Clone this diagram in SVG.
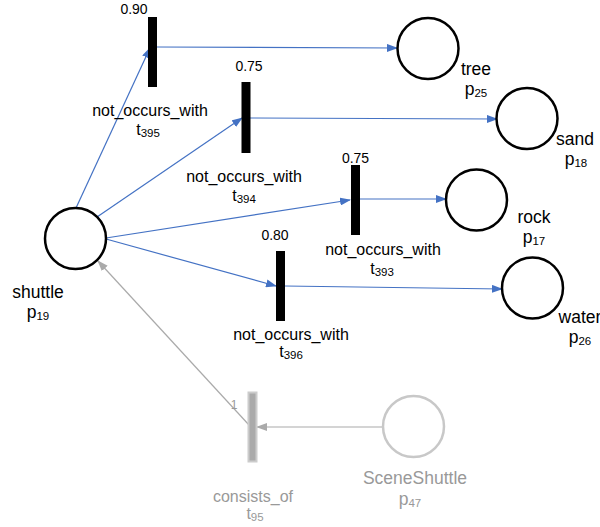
<svg xmlns="http://www.w3.org/2000/svg" width="600" height="527" viewBox="0 0 600 527">
<style>
.pl{fill:#fff;stroke:#000;stroke-width:2.5}
.tr{fill:#000}
.lbl{font-family:"Liberation Sans",Arial,sans-serif;font-size:17.5px;fill:#000;text-anchor:middle}
.tl{font-family:"Liberation Sans",Arial,sans-serif;font-size:16px;fill:#000;text-anchor:middle}
.w{font-family:"Liberation Sans",Arial,sans-serif;font-size:14px;fill:#000;text-anchor:middle}
.sub{font-size:11.5px}
.arc{stroke:#4472C4;stroke-width:1.2;fill:none}
.garc{stroke:#aaa;stroke-width:1.2;fill:none}
.g{fill:#999}
</style>
<defs>
<marker id="ab" markerWidth="11" markerHeight="8" refX="10" refY="4" orient="auto" markerUnits="userSpaceOnUse"><path d="M0,0 L11,4 L0,8 z" fill="#4472C4"/></marker>
<marker id="ag" markerWidth="11" markerHeight="8" refX="10" refY="4" orient="auto" markerUnits="userSpaceOnUse"><path d="M0,0 L11,4 L0,8 z" fill="#aaa"/></marker>
</defs>
<g id="connectors">
<line class="arc" x1="76" y1="208" x2="150" y2="48" marker-end="url(#ab)"/>
<line class="arc" x1="97" y1="217" x2="242" y2="118" marker-end="url(#ab)"/>
<line class="arc" x1="106" y1="238" x2="350" y2="200" marker-end="url(#ab)"/>
<line class="arc" x1="106" y1="239" x2="276" y2="286" marker-end="url(#ab)"/>
<line class="arc" x1="157" y1="47" x2="397" y2="48" marker-end="url(#ab)"/>
<line class="arc" x1="250" y1="118" x2="497" y2="119" marker-end="url(#ab)"/>
<line class="arc" x1="359" y1="199" x2="446" y2="199" marker-end="url(#ab)"/>
<line class="arc" x1="285" y1="286" x2="502" y2="289" marker-end="url(#ab)"/>
<line class="garc" x1="383" y1="427" x2="257" y2="427" marker-end="url(#ag)"/>
<line class="garc" x1="249" y1="425" x2="98" y2="261" marker-end="url(#ag)"/>
<text x="234" y="409" font-family="Liberation Sans, Arial, sans-serif" font-size="12" fill="#999" text-anchor="middle">1</text>
</g>
<g id="p19">
<circle class="pl" cx="75.5" cy="238.5" r="30.5"/>
<text class="lbl" x="38" y="298">shuttle</text>
<text class="lbl" x="38" y="318">p<tspan class="sub" dy="2">19</tspan></text>
</g>
<g id="p25">
<circle class="pl" cx="428" cy="48.5" r="30.5"/>
<text class="lbl" x="476" y="75">tree</text>
<text class="lbl" x="476" y="95">p<tspan class="sub" dy="2">25</tspan></text>
</g>
<g id="p18">
<circle class="pl" cx="527" cy="118.5" r="30.5"/>
<text class="lbl" x="575" y="145">sand</text>
<text class="lbl" x="576" y="165">p<tspan class="sub" dy="2">18</tspan></text>
</g>
<g id="p17">
<circle class="pl" cx="476.5" cy="200" r="30.5"/>
<text class="lbl" x="534" y="223">rock</text>
<text class="lbl" x="534" y="243">p<tspan class="sub" dy="2">17</tspan></text>
</g>
<g id="p26">
<circle class="pl" cx="532.5" cy="288" r="30.5"/>
<text class="lbl" x="580" y="323">water</text>
<text class="lbl" x="580" y="343">p<tspan class="sub" dy="2">26</tspan></text>
</g>
<g id="p47">
<circle cx="413.5" cy="426.5" r="30.5" fill="#fff" stroke="#c8c8c8" stroke-width="2.5"/>
<text class="lbl g" x="415" y="484">SceneShuttle</text>
<text class="lbl g" x="410" y="505">p<tspan class="sub" dy="2">47</tspan></text>
</g>
<g id="t395">
<rect class="tr" x="148" y="17" width="9" height="70"/>
<text class="w" x="134" y="14">0.90</text>
<text class="tl" x="150" y="116">not_occurs_with</text>
<text class="tl" x="148" y="135">t<tspan class="sub" dy="2">395</tspan></text>
</g>
<g id="t394">
<rect class="tr" x="241.5" y="82" width="9" height="71"/>
<text class="w" x="249" y="71">0.75</text>
<text class="tl" x="244" y="182">not_occurs_with</text>
<text class="tl" x="244" y="201">t<tspan class="sub" dy="2">394</tspan></text>
</g>
<g id="t393">
<rect class="tr" x="351" y="165" width="9" height="70"/>
<text class="w" x="355.5" y="163">0.75</text>
<text class="tl" x="383" y="255">not_occurs_with</text>
<text class="tl" x="382" y="274">t<tspan class="sub" dy="2">393</tspan></text>
</g>
<g id="t396">
<rect class="tr" x="276" y="251" width="9" height="70"/>
<text class="w" x="275" y="240">0.80</text>
<text class="tl" x="291" y="340">not_occurs_with</text>
<text class="tl" x="291" y="357">t<tspan class="sub" dy="2">396</tspan></text>
</g>
<g id="t95">
<rect x="248.5" y="392.5" width="8" height="69" fill="#aaa" stroke="#ccc" stroke-width="2"/>
<text class="tl g" x="253" y="502">consists_of</text>
<text class="tl g" x="255" y="519">t<tspan class="sub" dy="2">95</tspan></text>
</g>
</svg>
